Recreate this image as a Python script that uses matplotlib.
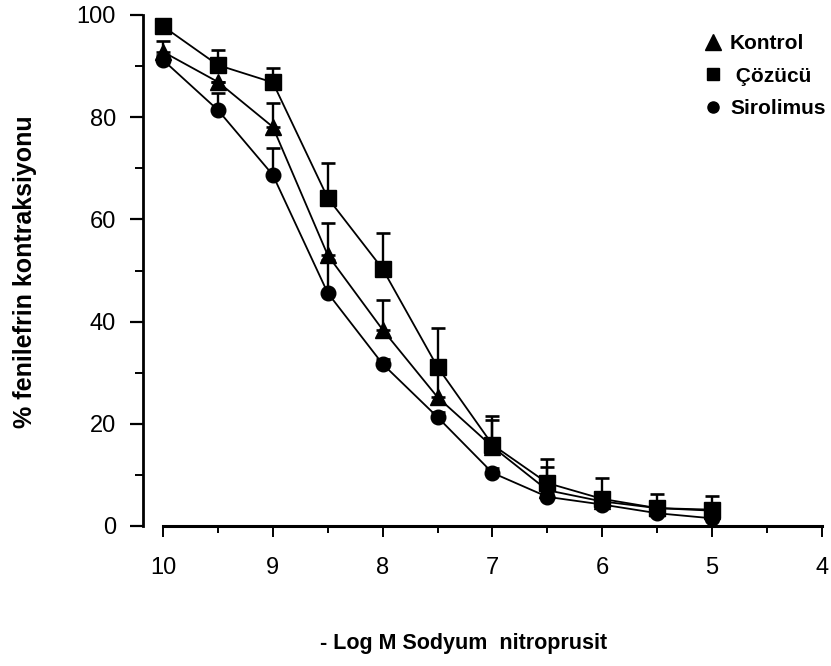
import matplotlib
matplotlib.use("Agg")
import matplotlib.pyplot as plt
from matplotlib.lines import Line2D
from matplotlib.ticker import MultipleLocator

# -log M sodium nitroprusside
LOGM = [10, 9.5, 9, 8.5, 8, 7.5, 7, 6.5, 6, 5.5, 5]

KONTROL     = [92.8, 86.9, 78.1, 53.0, 38.4, 25.2, 15.5, 7.0, 4.8, 3.5, 3.0]
KONTROL_ERR = [2.1, 0.0, 4.7, 6.3, 5.8, 4.5, 5.2, 4.5, 0.8, 0.8, 0.8]

COZUCU      = [97.8, 90.2, 86.8, 64.2, 50.3, 31.1, 15.9, 8.4, 5.3, 3.5, 3.2]
COZUCU_ERR  = [0.0, 3.0, 2.8, 6.8, 7.0, 7.6, 5.6, 4.7, 4.1, 2.8, 2.7]

SIRO        = [91.2, 81.4, 68.7, 45.6, 31.7, 21.3, 10.4, 5.7, 4.2, 2.5, 1.5]
SIRO_ERR    = [1.0, 3.3, 5.3, 6.5, 1.0, 1.0, 1.0, 1.0, 1.0, 1.0, 0.5]

XTICKS = [10, 9, 8, 7, 6, 5, 4]
YTICKS = [0, 20, 40, 60, 80, 100]

W, H = 831, 666
FONT = "Liberation Sans"


def series(ax, y, err, marker, ms):
    ax.errorbar(LOGM, y, yerr=[[0] * len(err), err], color="black",
                marker=marker, ms=ms, lw=1.3, elinewidth=1.7,
                capsize=4.8, capthick=1.9, clip_on=False)


def main():
    fig = plt.figure(figsize=(W / 100, H / 100), dpi=100)
    ax = fig.add_axes([143 / W, 1 - 526 / H, (822 - 143) / W, (526 - 15) / H])

    series(ax, SIRO, SIRO_ERR, "o", 10.5)
    series(ax, KONTROL, KONTROL_ERR, "^", 12)
    series(ax, COZUCU, COZUCU_ERR, "s", 11.5)

    ax.set_xlim(10.182, 4)
    ax.set_ylim(0, 100)

    for s in ("top", "right"):
        ax.spines[s].set_visible(False)
    ax.spines["left"].set_linewidth(2)
    ax.spines["bottom"].set_linewidth(2.2)
    ax.spines["bottom"].set_bounds(10, 4)

    ax.set_xticks(XTICKS)
    ax.set_xticklabels([str(t) for t in XTICKS], family=FONT, fontsize=17)
    ax.set_yticks(YTICKS)
    ax.set_yticklabels([str(t) for t in YTICKS], family=FONT, fontsize=17)
    ax.xaxis.set_minor_locator(MultipleLocator(0.5))
    ax.yaxis.set_minor_locator(MultipleLocator(10))
    ax.tick_params(axis="y", which="major", direction="out", length=9.5,
                   width=1.6, pad=10)
    ax.tick_params(axis="y", which="minor", direction="out", length=5.5,
                   width=1.4)
    ax.tick_params(axis="x", which="major", direction="out", length=8,
                   width=1.4, pad=14)
    ax.tick_params(axis="x", which="minor", direction="out", length=5,
                   width=1.4)

    fig.text(25 / W, 1 - 272 / H, "% fenilefrin kontraksiyonu", rotation=90,
             ha="center", va="center", family=FONT, fontweight="bold",
             fontsize=18)
    fig.text(464 / W, 1 - 643 / H, "- Log M Sodyum  nitroprusit",
             ha="center", va="center", family=FONT, fontweight="bold",
             fontsize=15.5)

    handles = [
        Line2D([], [], color="black", marker="^", ms=11, ls="none"),
        Line2D([], [], color="black", marker="s", ms=8.5, ls="none"),
        Line2D([], [], color="black", marker="o", ms=8, ls="none"),
    ]
    labels = ["Kontrol", " Çözücü", "Sirolimus"]
    ax.legend(handles, labels, loc="upper left",
              bbox_to_anchor=(704 / W, 1 - 34 / H),
              bbox_transform=fig.transFigure, frameon=False,
              handlelength=0.9, handletextpad=0.35, labelspacing=0.66,
              borderpad=0, borderaxespad=0,
              prop={"family": FONT, "weight": "bold", "size": 15})

    fig.savefig("out.png", dpi=100)
    plt.close(fig)


if __name__ == "__main__":
    main()
